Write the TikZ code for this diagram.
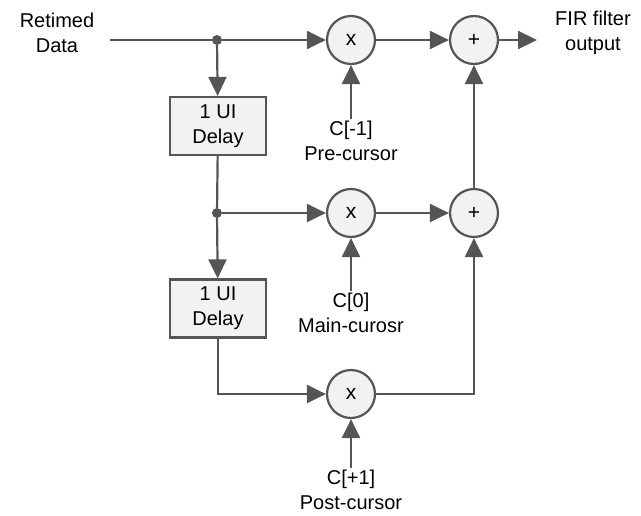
\documentclass[tikz,border=0pt]{standalone}
\usepackage{fontspec}
\setmainfont{Liberation Sans}
\usetikzlibrary{arrows.meta}
\definecolor{ln}{HTML}{555555}
\definecolor{fl}{HTML}{F2F2F2}
\begin{document}
\begin{tikzpicture}[x=1pt,y=-1pt,
  wire/.style={draw=ln,line width=2.2pt},
  arr/.style={wire,-{Triangle[length=19pt,width=18pt]}},
  op/.style={circle,draw=ln,line width=2.2pt,fill=fl,minimum size=48pt,inner sep=0pt,font=\fontsize{21}{25}\selectfont},
  delaybox/.style={rectangle,draw=ln,line width=2.2pt,fill=fl,minimum width=96pt,minimum height=58pt,inner sep=0pt,align=center,font=\fontsize{20}{25}\selectfont},
  lbl/.style={align=center,inner sep=2pt,font=\fontsize{20}{25}\selectfont},
  jdot/.style={circle,fill=ln,minimum size=10pt,inner sep=0pt}]
\useasboundingbox (0,0) rectangle (641,515);
% top row
\node[lbl] (inlbl) at (57,33) {Retimed\\Data};
\coordinate (start) at (110,40);
\node[jdot] (dot1) at (217,40) {};
\node[op] (m1) at (351,40) {x};
\node[op] (p1) at (474,40) {+};
\coordinate (outend) at (537,40);
\node[lbl] (outlbl) at (593,33) {FIR filter\\output};
% delays
\node[delaybox] (d1) at (218,126) {1 UI\\Delay};
\node[jdot] (dot2) at (217,213) {};
\node[op] (m2) at (351,213) {x};
\node[op] (p2) at (474,213) {+};
\node[delaybox] (d2) at (218,308.5) {1 UI\\Delay};
\node[op] (m3) at (351,394) {x};
% coefficients
\node[lbl] (c1) at (351,141) {C[-1]\\Pre-cursor};
\node[lbl] (c2) at (351,313) {C[0]\\Main-curosr};
\node[lbl] (c3) at (351,490) {C[+1]\\Post-cursor};
% connectors
\draw[wire] (start) -- (dot1);
\draw[arr] (dot1) -- (m1);
\draw[arr] (m1) -- (p1);
\draw[arr] (p1) -- (outend);
\draw[arr] (dot1) -- (d1);
\draw[wire] (d1) -- (dot2);
\draw[arr] (dot2) -- (m2);
\draw[arr] (m2) -- (p2);
\draw[arr] (dot2) -- (d2);
\draw[arr] (d2.south) |- (m3.west);
\draw[arr] (m3.east) -| (p2.south);
\draw[arr] (p2) -- (p1);
\draw[arr] (c1.north) -- (m1.south);
\draw[arr] (c2.north) -- (m2.south);
\draw[arr] (c3.north) -- (m3.south);
\end{tikzpicture}
\end{document}
